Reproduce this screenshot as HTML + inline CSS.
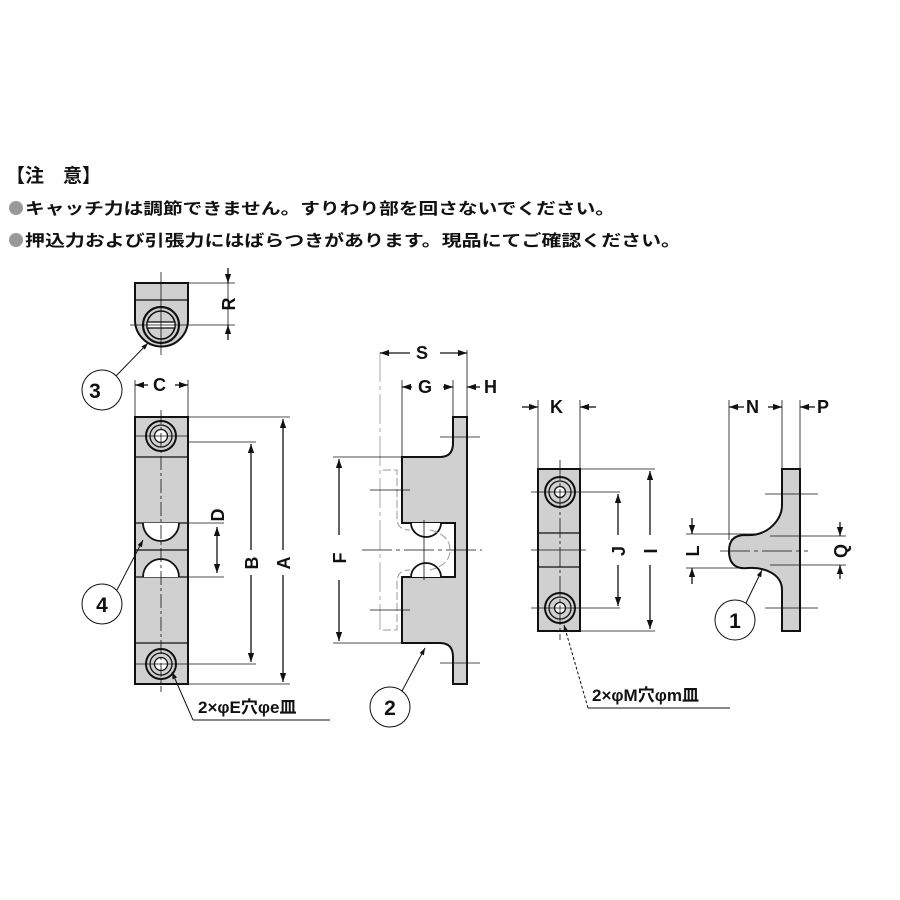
<!DOCTYPE html>
<html><head><meta charset="utf-8"><style>
html,body{margin:0;padding:0;background:#fff;}
svg{display:block;}
text{font-family:"Liberation Sans","Noto Sans CJK JP",sans-serif;fill:#111;}
</style></head><body>
<svg width="900" height="900" viewBox="0 0 900 900" xmlns="http://www.w3.org/2000/svg">
<defs>
<marker id="a" viewBox="0 0 10 10" refX="10" refY="5" markerWidth="7" markerHeight="7" orient="auto-start-reverse"><path d="M0,1.5 L10,5 L0,8.5z" fill="#111"/></marker>
</defs>
<text x="6" y="182" font-size="19" font-weight="bold" style="font-family:'Noto Sans CJK JP',sans-serif">【注　意】</text>
<circle cx="16" cy="208" r="7" fill="#999"/>
<text x="25" y="214" font-size="16" font-weight="bold" textLength="590" lengthAdjust="spacingAndGlyphs" style="font-family:'Noto Sans CJK JP',sans-serif">キャッチ力は調節できません。すりわり部を回さないでください。</text>
<circle cx="16" cy="240" r="7" fill="#999"/>
<text x="25" y="246" font-size="16" font-weight="bold" textLength="656" lengthAdjust="spacingAndGlyphs" style="font-family:'Noto Sans CJK JP',sans-serif">押込力および引張力にはばらつきがあります。現品にてご確認ください。</text>

<g stroke="#111" stroke-width="1.3" fill="none">
<path d="M135,283 H188 V320 A26.5,26.5 0 0 1 135,320 Z" fill="#d0d0d0" stroke-width="2"/>
<line x1="135" y1="300" x2="188" y2="300"/>
<circle cx="161" cy="325" r="18" fill="#d0d0d0" stroke-width="2.2"/>
<circle cx="161" cy="325" r="14" stroke-width="1.6"/>
<rect x="147" y="322" width="28" height="6" fill="#fff"/>
<line x1="161" y1="272" x2="161" y2="355" stroke-width="0.8"/>
<line x1="130" y1="325" x2="235" y2="325" stroke-width="0.8"/>
<line x1="188" y1="283" x2="235" y2="283" stroke-width="0.8"/>
<line x1="228" y1="268" x2="228" y2="283" marker-end="url(#a)"/>
<line x1="228" y1="340" x2="228" y2="325" marker-end="url(#a)"/>
<line x1="228" y1="283" x2="228" y2="325" stroke-width="0.8"/>
<circle cx="102" cy="390" r="20" stroke-width="1"/>
<line x1="116" y1="376" x2="148" y2="343" marker-end="url(#a)" stroke-width="1"/>

<rect x="135" y="417" width="53" height="267" fill="#d0d0d0" stroke-width="2"/>
<line x1="135" y1="457" x2="188" y2="457"/>
<line x1="135" y1="523" x2="188" y2="523"/>
<line x1="135" y1="550" x2="188" y2="550"/>
<line x1="135" y1="577" x2="188" y2="577"/>
<line x1="135" y1="643" x2="188" y2="643"/>
<path d="M143,523 A18,18 0 0 0 179,523" fill="#fff" stroke-width="1.8"/>
<path d="M143,577 A18,18 0 0 1 179,577" fill="#fff" stroke-width="1.8"/>
<circle cx="161" cy="436" r="15" stroke-width="2"/><circle cx="161" cy="436" r="11"/><circle cx="161" cy="436" r="6.5" fill="#fff"/>
<circle cx="161" cy="664" r="15" stroke-width="2"/><circle cx="161" cy="664" r="11"/><circle cx="161" cy="664" r="6.5" fill="#fff"/>
<line x1="161" y1="410" x2="161" y2="692" stroke-width="0.8" stroke-dasharray="14,3,3,3"/>
<line x1="135" y1="436" x2="188" y2="436" stroke-width="0.8"/>
<line x1="135" y1="664" x2="188" y2="664" stroke-width="0.8"/>
<line x1="135" y1="380" x2="135" y2="417" stroke-width="0.8"/>
<line x1="188" y1="380" x2="188" y2="417" stroke-width="0.8"/>
<line x1="148" y1="385" x2="135" y2="385" marker-end="url(#a)"/>
<line x1="175" y1="385" x2="188" y2="385" marker-end="url(#a)"/>
<line x1="188" y1="417" x2="290" y2="417" stroke-width="0.8"/>
<line x1="188" y1="684" x2="290" y2="684" stroke-width="0.8"/>
<line x1="188" y1="442" x2="256" y2="442" stroke-width="0.8"/>
<line x1="188" y1="664" x2="256" y2="664" stroke-width="0.8"/>
<line x1="188" y1="523" x2="224" y2="523" stroke-width="0.8"/>
<line x1="188" y1="577" x2="224" y2="577" stroke-width="0.8"/>
<line x1="217" y1="550" x2="217" y2="527" marker-end="url(#a)"/>
<line x1="217" y1="550" x2="217" y2="573" marker-end="url(#a)"/>
<line x1="251" y1="550" x2="251" y2="444" marker-end="url(#a)"/>
<line x1="251" y1="575" x2="251" y2="662" marker-end="url(#a)"/>
<line x1="283" y1="550" x2="283" y2="419" marker-end="url(#a)"/>
<line x1="283" y1="575" x2="283" y2="682" marker-end="url(#a)"/>
<circle cx="102" cy="604" r="20" stroke-width="1"/>
<line x1="117" y1="590" x2="143" y2="540" marker-end="url(#a)" stroke-width="1"/>
<line x1="193" y1="720" x2="172" y2="672" marker-end="url(#a)" stroke-width="1"/>
<line x1="193" y1="720" x2="330" y2="720" stroke-width="1"/>

<path d="M453,417 H467 V684 H453 V657 Q453,643 440,643 H402 V577 H455 V523 H402 V457 H440 Q453,457 453,443 Z" fill="#d0d0d0" stroke-width="2"/>
<path d="M411,523 A15,14 0 0 0 441,523" fill="#fff" stroke-width="1.8"/>
<path d="M411,577 A15,14 0 0 1 441,577" fill="#fff" stroke-width="1.8"/>
<line x1="380" y1="352" x2="380" y2="630" stroke="#aaa" stroke-width="1" stroke-dasharray="30,4,4,4"/>
<path d="M383,470 H397 V518 Q397,530 410,530 M383,630 H397 V582 Q397,570 410,570 M430,530 Q450,535 450,550 Q450,565 430,570" stroke="#999" stroke-width="1" stroke-dasharray="8,3"/>
<line x1="440" y1="437" x2="480" y2="437" stroke-width="0.8"/>
<line x1="440" y1="663" x2="480" y2="663" stroke-width="0.8"/>
<line x1="370" y1="490" x2="410" y2="490" stroke-width="0.8"/>
<line x1="370" y1="610" x2="410" y2="610" stroke-width="0.8"/>
<line x1="362" y1="550" x2="482" y2="550" stroke-width="0.8" stroke-dasharray="30,4,4,4"/>
<line x1="424" y1="520" x2="424" y2="580" stroke-width="0.8"/>
<line x1="402" y1="380" x2="402" y2="457" stroke-width="0.8"/>
<line x1="453" y1="380" x2="453" y2="417" stroke-width="0.8"/>
<line x1="467" y1="350" x2="467" y2="417" stroke-width="0.8"/>
<line x1="410" y1="353" x2="380" y2="353" marker-end="url(#a)"/>
<line x1="440" y1="353" x2="467" y2="353" marker-end="url(#a)"/>
<line x1="412" y1="387" x2="402" y2="387" marker-end="url(#a)"/>
<line x1="443" y1="387" x2="453" y2="387" marker-end="url(#a)"/>
<line x1="480" y1="387" x2="467" y2="387" marker-end="url(#a)"/>
<line x1="333" y1="457" x2="402" y2="457" stroke-width="0.8"/>
<line x1="333" y1="643" x2="402" y2="643" stroke-width="0.8"/>
<line x1="339" y1="535" x2="339" y2="459" marker-end="url(#a)"/>
<line x1="339" y1="580" x2="339" y2="641" marker-end="url(#a)"/>
<circle cx="390" cy="707" r="20" stroke-width="1"/>
<line x1="402" y1="691" x2="425" y2="648" marker-end="url(#a)" stroke-width="1"/>

<rect x="538" y="469" width="42" height="162" fill="#d0d0d0" stroke-width="2"/>
<line x1="538" y1="533" x2="580" y2="533"/>
<line x1="538" y1="567" x2="580" y2="567"/>
<circle cx="560" cy="492" r="15" stroke-width="2"/><circle cx="560" cy="492" r="11"/><circle cx="560" cy="492" r="5.5" fill="#fff"/>
<circle cx="560" cy="608" r="15" stroke-width="2"/><circle cx="560" cy="608" r="11"/><circle cx="560" cy="608" r="5.5" fill="#fff"/>
<line x1="560" y1="460" x2="560" y2="640" stroke-width="0.8" stroke-dasharray="20,3,3,3"/>
<line x1="531" y1="492" x2="620" y2="492" stroke-width="0.8"/>
<line x1="531" y1="608" x2="620" y2="608" stroke-width="0.8"/>
<line x1="531" y1="550" x2="586" y2="550" stroke-width="0.8"/>
<line x1="580" y1="469" x2="655" y2="469" stroke-width="0.8"/>
<line x1="580" y1="631" x2="655" y2="631" stroke-width="0.8"/>
<line x1="538" y1="400" x2="538" y2="469" stroke-width="0.8"/>
<line x1="580" y1="400" x2="580" y2="469" stroke-width="0.8"/>
<line x1="522" y1="407" x2="538" y2="407" marker-end="url(#a)"/>
<line x1="596" y1="407" x2="580" y2="407" marker-end="url(#a)"/>
<line x1="618" y1="535" x2="618" y2="494" marker-end="url(#a)"/>
<line x1="618" y1="565" x2="618" y2="606" marker-end="url(#a)"/>
<line x1="650" y1="535" x2="650" y2="471" marker-end="url(#a)"/>
<line x1="650" y1="565" x2="650" y2="629" marker-end="url(#a)"/>
<line x1="588" y1="708" x2="564" y2="625" marker-end="url(#a)" stroke-width="1" stroke-dasharray="3,2"/>
<line x1="588" y1="708" x2="730" y2="708" stroke-width="1"/>

<path d="M782,469 H800 V631 H782 V590 Q782,578 770,572 Q760,567 748,568 Q729,570 729,551 Q729,535 745,535 Q760,536 770,528 Q782,518 782,505 Z" fill="#d0d0d0" stroke-width="2"/>
<line x1="765" y1="494" x2="818" y2="494" stroke-width="0.8"/>
<line x1="765" y1="608" x2="818" y2="608" stroke-width="0.8"/>
<line x1="720" y1="551" x2="808" y2="551" stroke-width="0.8" stroke-dasharray="30,4,4,4"/>
<line x1="729" y1="400" x2="729" y2="540" stroke-width="0.8"/>
<line x1="782" y1="400" x2="782" y2="469" stroke-width="0.8"/>
<line x1="800" y1="400" x2="800" y2="469" stroke-width="0.8"/>
<line x1="744" y1="407" x2="729" y2="407" marker-end="url(#a)"/>
<line x1="768" y1="407" x2="782" y2="407" marker-end="url(#a)"/>
<line x1="815" y1="407" x2="800" y2="407" marker-end="url(#a)"/>
<line x1="686" y1="534" x2="760" y2="534" stroke-width="0.8"/>
<line x1="686" y1="568" x2="760" y2="568" stroke-width="0.8"/>
<line x1="692" y1="518" x2="692" y2="534" marker-end="url(#a)"/>
<line x1="692" y1="584" x2="692" y2="568" marker-end="url(#a)"/>
<line x1="770" y1="536" x2="846" y2="536" stroke-width="0.8"/>
<line x1="770" y1="565" x2="846" y2="565" stroke-width="0.8"/>
<line x1="840" y1="522" x2="840" y2="536" marker-end="url(#a)"/>
<line x1="840" y1="579" x2="840" y2="565" marker-end="url(#a)"/>
<circle cx="735" cy="620" r="20" stroke-width="1"/>
<line x1="746" y1="603" x2="762" y2="570" marker-end="url(#a)" stroke-width="1"/>
</g>

<g font-size="21" font-weight="bold">
<text x="95" y="398" text-anchor="middle" x-fix="0">3</text>
<text x="102" y="612" text-anchor="middle">4</text>
<text x="390" y="715" text-anchor="middle">2</text>
<text x="735" y="628" text-anchor="middle">1</text>
</g>
<g font-size="18" font-weight="bold">
<text x="153" y="391">C</text>
<text x="416" y="359">S</text>
<text x="418" y="393">G</text>
<text x="484" y="393">H</text>
<text x="550" y="413">K</text>
<text x="746" y="413">N</text>
<text x="817" y="413">P</text>
</g>
<g font-size="18" font-weight="bold">
<text transform="translate(235,304) rotate(-90)" text-anchor="middle">R</text>
<text transform="translate(224,515) rotate(-90)" text-anchor="middle">D</text>
<text transform="translate(258,563) rotate(-90)" text-anchor="middle">B</text>
<text transform="translate(290,563) rotate(-90)" text-anchor="middle">A</text>
<text transform="translate(346,558) rotate(-90)" text-anchor="middle">F</text>
<text transform="translate(625,551) rotate(-90)" text-anchor="middle">J</text>
<text transform="translate(657,551) rotate(-90)" text-anchor="middle">I</text>
<text transform="translate(699,551) rotate(-90)" text-anchor="middle">L</text>
<text transform="translate(847,551) rotate(-90)" text-anchor="middle">Q</text>
</g>
<text x="198" y="713" font-size="17" font-weight="bold">2×φE穴φe皿</text>
<text x="592" y="701" font-size="17" font-weight="bold">2×φM穴φm皿</text>
</svg>
</body></html>
